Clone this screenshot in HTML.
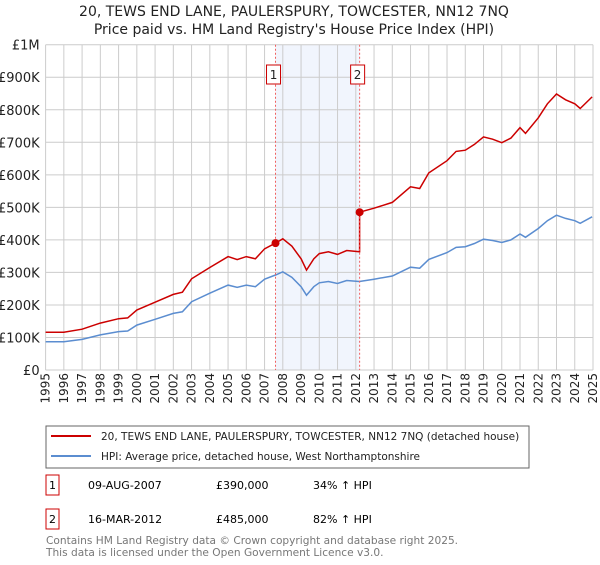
<!DOCTYPE html>
<html><head><meta charset="utf-8"><style>
body{margin:0;background:#fff;font-family:"Liberation Sans","DejaVu Sans",sans-serif;}
svg text{font-family:"DejaVu Sans","Liberation Sans",sans-serif;}
</style></head><body>
<svg id="c" width="600" height="560" xmlns="http://www.w3.org/2000/svg">
<text x="294" y="16" text-anchor="middle" font-size="14" fill="#222">20, TEWS END LANE, PAULERSPURY, TOWCESTER, NN12 7NQ</text>
<text x="294" y="34" text-anchor="middle" font-size="14" fill="#222">Price paid vs. HM Land Registry's House Price Index (HPI)</text>
<g id="grid"></g><g id="marks"></g><g id="axes"></g>
<rect x="46" y="426" width="483" height="42" fill="#fff" stroke="#666"/>
<line x1="51" y1="436" x2="91" y2="436" stroke="#cc0000" stroke-width="2"/>
<text x="101" y="440" font-size="10.5" fill="#222">20, TEWS END LANE, PAULERSPURY, TOWCESTER, NN12 7NQ (detached house)</text>
<line x1="51" y1="456" x2="91" y2="456" stroke="#5b8dd0" stroke-width="2"/>
<text x="101" y="460" font-size="10.5" fill="#222">HPI: Average price, detached house, West Northamptonshire</text>
<rect x="46" y="475" width="13" height="20" fill="#fff" stroke="#cc0000"/>
<text x="52.5" y="489" text-anchor="middle" font-size="11">1</text>
<text x="88" y="489" font-size="11">09-AUG-2007</text>
<text x="216" y="489" font-size="11">£390,000</text>
<text x="313" y="489" font-size="11">34% ↑ HPI</text>
<rect x="46" y="509" width="13" height="20" fill="#fff" stroke="#cc0000"/>
<text x="52.5" y="523" text-anchor="middle" font-size="11">2</text>
<text x="88" y="523" font-size="11">16-MAR-2012</text>
<text x="216" y="523" font-size="11">£485,000</text>
<text x="313" y="523" font-size="11">82% ↑ HPI</text>
<text x="46" y="544" font-size="10.6" fill="#777">Contains HM Land Registry data © Crown copyright and database right 2025.</text>
<text x="46" y="556" font-size="10.6" fill="#777">This data is licensed under the Open Government Licence v3.0.</text>
</svg>
<script>
const hpiYears=[1995,1996,1997,1998,1999,1999.5,2000,2001,2002,2002.5,2003,2004,2005,2005.5,2006,2006.5,2007,2007.6,2008,2008.5,2009,2009.3,2009.7,2010,2010.5,2011,2011.5,2012.2,2013,2014,2015,2015.5,2016,2017,2017.5,2018,2018.5,2019,2019.5,2020,2020.5,2021,2021.3,2022,2022.5,2023,2023.5,2024,2024.3,2024.95];
const hpiValues=[87,87,94,108,118,120,138,156,174,179,210,236,261,254,261,256,279,292,302,285,256,230,256,268,272,266,275,272,279,289,316,313,340,361,377,379,389,402,398,392,400,418,408,435,459,476,466,459,451,471];
const saleYears=[2007.6,2012.21];
const salePrices=[390,485];
const saleLabels=["1","2"];
const yTicks=[0,100,200,300,400,500,600,700,800,900,1000];
const yTickLabels=["£0","£100K","£200K","£300K","£400K","£500K","£600K","£700K","£800K","£900K","£1M"];
const xTicks=[1995,1996,1997,1998,1999,2000,2001,2002,2003,2004,2005,2006,2007,2008,2009,2010,2011,2012,2013,2014,2015,2016,2017,2018,2019,2020,2021,2022,2023,2024,2025];

const NS="http://www.w3.org/2000/svg";
const X0=45.6,X1=593,Y0=370,Y1=44.7;
const xs=y=>X0+(y-1995)/30*(X1-X0);
const ys=v=>Y0-v/1000*(Y0-Y1);
function mk(tag,attrs,parent){const e=document.createElementNS(NS,tag);for(const k in attrs)e.setAttribute(k,attrs[k]);document.getElementById(parent).appendChild(e);return e;}
function hpiAt(t){for(let i=0;i<hpiYears.length-1;i++){if(t<=hpiYears[i+1]){const f=(t-hpiYears[i])/(hpiYears[i+1]-hpiYears[i]);return hpiValues[i]+f*(hpiValues[i+1]-hpiValues[i]);}}return hpiValues[hpiValues.length-1];}

let band=mk('rect',{x:xs(saleYears[0]),y:Y1,width:xs(saleYears[1])-xs(saleYears[0]),height:Y0-Y1,fill:'#eef3fc',opacity:0.8},'grid');


yTicks.forEach((v,i)=>{
 let l=mk('line',{x1:X0,x2:X1,y1:ys(v),y2:ys(v),stroke:'#ccc'},'grid');
 
 
 let t=mk('text',{x:X0-6,y:ys(v)+5,'text-anchor':'end','font-size':13,fill:'#222'},'axes');
 t.textContent=yTickLabels[i];
 
 
});
xTicks.forEach(yr=>{
 let l=mk('line',{x1:xs(yr),x2:xs(yr),y1:Y1,y2:Y0,stroke:'#ccc'},'grid');
 
 
 let t=mk('text',{x:0,y:0,'text-anchor':'end','font-size':12,fill:'#222',transform:`translate(${xs(yr)+4},${Y0+3}) rotate(-90)`},'axes');
 t.textContent=yr;
 
 
});
let d=hpiYears.map((y,i)=>(i?'L':'M')+xs(y).toFixed(1)+','+ys(hpiValues[i]).toFixed(1)).join('');
let hp=mk('path',{d:d,fill:'none',stroke:'#5b8dd0','stroke-width':1.5},'marks');


function propAt(t){const k=t<saleYears[1]?0:1;return salePrices[k]*hpiAt(t)/hpiAt(saleYears[k]);}
let pts=hpiYears.filter(y=>y<saleYears[1]).concat([saleYears[1]-0.001,saleYears[1]]).concat(hpiYears.filter(y=>y>saleYears[1]));
let d2=pts.map((y,i)=>(i?'L':'M')+xs(y).toFixed(1)+','+ys(propAt(y)).toFixed(1)).join('');
let pp=mk('path',{d:d2,fill:'none',stroke:'#cc0000','stroke-width':1.5},'marks');


saleYears.forEach((yr,i)=>{
 let l=mk('line',{x1:xs(yr),x2:xs(yr),y1:Y1,y2:Y0,stroke:'#f06060','stroke-dasharray':'2,2'},'marks');
 
 
 let c=mk('circle',{cx:xs(yr),cy:ys(salePrices[i]),r:4,fill:'#cc0000'},'marks');
 
 
 let b=mk('rect',{x:xs(yr)-9,y:65,width:14,height:19,fill:'#fff',stroke:'#cc0000'},'marks');
 
 
 let t=mk('text',{x:xs(yr)-2,y:79,'text-anchor':'middle','font-size':12,fill:'#222'},'marks');
 t.textContent=saleLabels[i];
 
 
});
</script>
</body></html>
